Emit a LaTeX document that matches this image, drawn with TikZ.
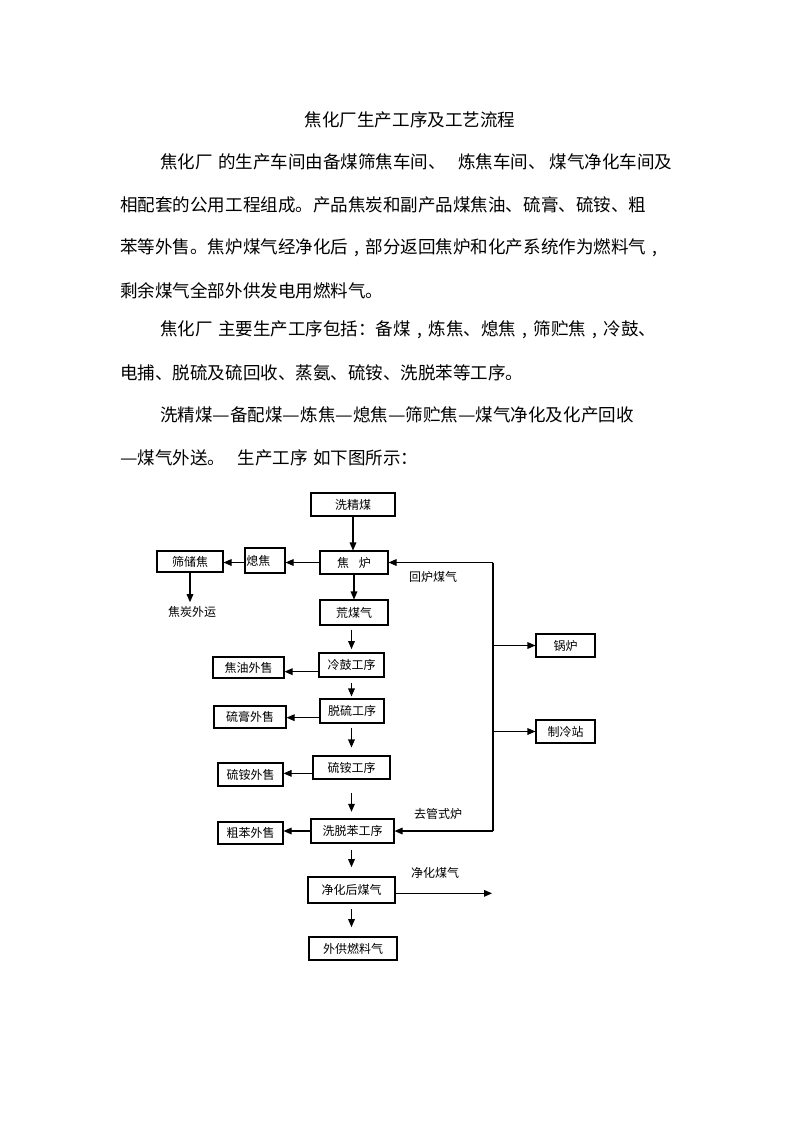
\documentclass[tikz,border=0pt]{standalone}
\usepackage{fontspec}
\usepackage{graphicx}
\setmainfont{Noto Sans CJK SC}
\usetikzlibrary{arrows.meta}
\newcommand\lngdash{\resizebox{1em}{\height}{—}}
\newcommand\cmm{\makebox[1em]{,}}
\begin{document}
\begin{tikzpicture}[x=0.75pt,y=-0.75pt,
  box/.style={draw, line width=0.8pt, inner sep=0pt, font=\fontsize{9}{11}\selectfont, align=center},
  arr/.style={line width=0.8pt, -{Triangle[length=6pt,width=5pt]}},
  plain/.style={line width=0.8pt},
  lbl/.style={font=\fontsize{9}{11}\selectfont, inner sep=0pt},
  body/.style={anchor=west, inner sep=0pt, font=\fontsize{13.15}{15}\selectfont}]
\useasboundingbox (0,0) rectangle (800,1133);
\fill[white] (0,0) rectangle (800,1133);
% text
\node[inner sep=0pt, font=\fontsize{13.15}{15}\selectfont] (title) at (410,120) {焦化厂生产工序及工艺流程};
\node[body] (p1a) at (160,162) {焦化厂\hspace{0.3em}的生产车间由备煤筛焦车间、\hspace{0.7em}炼焦车间、\hspace{0.2em}煤气净化车间及};
\node[body] (p1b) at (120,205) {相配套的公用工程组成。产品焦炭和副产品煤焦油、硫膏、硫铵、粗};
\node[body] (p1c) at (120,248) {苯等外售。焦炉煤气经净化后\cmm 部分返回焦炉和化产系统作为燃料气\cmm};
\node[body] (p1d) at (120,291) {剩余煤气全部外供发电用燃料气。};
\node[body] (p2a) at (160,330) {焦化厂\hspace{0.3em}主要生产工序包括：备煤\cmm 炼焦、熄焦\cmm 筛贮焦\cmm 冷鼓、};
\node[body] (p2b) at (120,373) {电捕、脱硫及硫回收、蒸氨、硫铵、洗脱苯等工序。};
\node[body] (p3a) at (160,415) {洗精煤\lngdash 备配煤\lngdash 炼焦\lngdash 熄焦\lngdash 筛贮焦\lngdash 煤气净化及化产回收};
\node[body] (p3b) at (120,458) {\lngdash 煤气外送。\hspace{0.7em}生产工序\hspace{0.3em}如下图所示：};
% boxes
\node[box, minimum width=63pt, minimum height=17.25pt] (xjm) at (353,504.5) {洗精煤};
\node[box, minimum width=51pt, minimum height=17.25pt] (jl) at (354,562.5) {焦\hspace{0.8em}炉};
\node[box, minimum width=30pt, minimum height=18.75pt, text width=28pt, align=left] (xj) at (265,560.5) {熄焦};
\node[box, minimum width=49.5pt, minimum height=15.75pt] (scj) at (190,561.5) {筛储焦};
\node[box, minimum width=51pt, minimum height=18.75pt] (hmq) at (354,612.5) {荒煤气};
\node[box, minimum width=48.75pt, minimum height=18pt] (lg) at (351.5,665) {冷鼓工序};
\node[box, minimum width=53.25pt, minimum height=15.75pt] (jy) at (248.5,667.5) {焦油外售};
\node[box, minimum width=48pt, minimum height=18pt] (tl) at (352,711) {脱硫工序};
\node[box, minimum width=54pt, minimum height=16.5pt] (lgs) at (250,717) {硫膏外售};
\node[box, minimum width=57.75pt, minimum height=17.25pt] (la) at (351.5,767.5) {硫铵工序};
\node[box, minimum width=48.75pt, minimum height=17.25pt] (las) at (250.5,774.5) {硫铵外售};
\node[box, minimum width=62.25pt, minimum height=18pt] (xtb) at (352.5,831) {洗脱苯工序};
\node[box, minimum width=48.75pt, minimum height=16.5pt] (cb) at (250.5,833) {粗苯外售};
\node[box, minimum width=65.25pt, minimum height=19.5pt] (jhh) at (351.5,890) {净化后煤气};
\node[box, minimum width=66pt, minimum height=17.25pt] (wg) at (353,948.5) {外供燃料气};
\node[box, minimum width=44.25pt, minimum height=17.25pt] (gl) at (565.5,645.5) {锅炉};
\node[box, minimum width=44.25pt, minimum height=17.25pt] (zl) at (565.5,731.5) {制冷站};
% labels
\node[lbl] (wy) at (192,612) {焦炭外运};
\node[lbl] (hlmq) at (433,577) {回炉煤气};
\node[lbl] (qgsl) at (438,814) {去管式炉};
\node[lbl] (jhmq) at (435,873) {净化煤气};
% coordinates
\coordinate (rt) at (493,562.5);
\coordinate (rb) at (493,831);
\coordinate (outend) at (492,893.3);
% arrows
\draw[arr] (xjm.south) -- (xjm.south |- jl.north);
\draw[arr] (jl.west) -- (jl.west -| xj.east);
\draw[arr] (xj.west |- jl.west) -- (jl.west -| scj.east);
\draw[arr, shorten >=3pt] (scj.south) -- (scj.south |- wy.north);
\draw[arr] (jl.south) -- (jl.south |- hmq.north);
\draw[arr, shorten <=3pt, shorten >=2.5pt] (hmq.south -| lg.north) -- (lg.north);
\draw[arr] ([yshift=-5pt]lg.west) -- ([yshift=-5pt]lg.west -| jy.east);
\draw[arr, shorten <=4pt, shorten >=1.5pt] (lg.south) -- (lg.south |- tl.north);
\draw[arr] ([yshift=-5pt]tl.west) -- ([yshift=-5pt]tl.west -| lgs.east);
\draw[arr, shorten <=3pt, shorten >=6pt] (tl.south -| la.north) -- (la.north);
\draw[arr] ([yshift=-4.4pt]la.west) -- ([yshift=-4.4pt]la.west -| las.east);
\draw[arr, shorten <=10pt, shorten >=5pt] (la.south) -- (la.south |- xtb.north);
\draw[arr] (xtb.west) -- (xtb.west -| cb.east);
\draw[arr, shorten <=5pt, shorten >=7pt] (xtb.south -| jhh.north) -- (jhh.north);
\draw[arr, shorten <=4pt, shorten >=7pt] (jhh.south) -- (jhh.south |- wg.north);
\draw[arr] ([yshift=-2.5pt]jhh.east) -- ([yshift=-2.5pt]jhh.east -| outend);
\draw[plain] (rt) -- (rb);
\draw[arr] (rt) -- (jl.east);
\draw[arr] (rb) -- (xtb.east);
\draw[arr] (rt |- gl.west) -- (gl.west);
\draw[arr] (rt |- zl.west) -- (zl.west);
\end{tikzpicture}
\end{document}
